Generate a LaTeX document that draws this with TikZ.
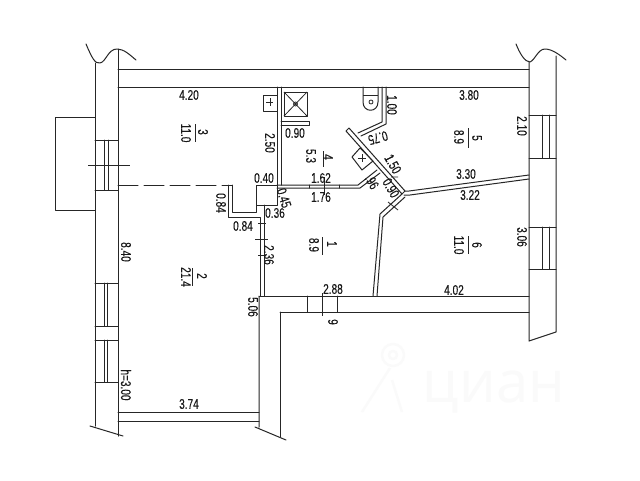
\documentclass[tikz,border=0pt]{standalone}
\usepackage{fontspec}
\setmainfont{Liberation Sans}
\newfontfamily\labfont[FakeStretch=0.72,FakeBold=0.15]{Liberation Sans}
\newfontfamily\markfont{Open Sans}
\tikzset{
 wall/.style={draw=black!85,line width=1pt,line cap=round,line join=round},
 thin line/.style={draw=black!85,line width=.8pt},
 lab/.style={inner sep=0pt,text=black!90,font=\labfont\fontsize{14}{14}\selectfont},
 vlab/.style={lab,rotate=-90},
}
\begin{document}
\begin{tikzpicture}[x=1pt,y=-1pt]
\useasboundingbox (0,0) rectangle (640,480);
\fill[white] (0,0) rectangle (640,480);
% watermark
\node[inner sep=0pt,text=black!2,font=\markfont\fontsize{58}{58}\selectfont] (wm) at (494,392) {циан};
\draw[black!2,line width=2.4pt] (393,355) circle (11) (393,355) circle (4);
\draw[black!2,line width=2.4pt] (390,368) -- (362,412) (392,380) -- (402,412);
% outer walls
\draw[wall] (95,63) -- (95,426) (118,49) -- (118,436);
\draw[wall] (86,44) .. controls (92,58) and (95,64) .. (100,63) .. controls (106,62) and (108,49) .. (117,49) .. controls (124,49) and (130,55) .. (136,60);
\draw[wall] (90,426) -- (123,436);
\draw[wall] (529,62) -- (529,341) (556,56) -- (556,332) (529,341) -- (556,332);
\draw[wall] (516,44) .. controls (520,54) and (525,62) .. (530,62) .. controls (535,60) and (538,49) .. (545,49) .. controls (552,49) and (560,55) .. (566,60);
\draw[wall] (118,69) -- (529,69) (118,87) -- (529,87);
% balcony and left windows
\draw[wall] (95,117) -- (55,117) -- (55,210) -- (95,210);
\draw[wall] (95,140) -- (118,140) (95,190) -- (118,190) (104,140) -- (104,190) (108,140) -- (108,190);
\draw[thin line] (88,165) -- (130,165);
\draw[wall] (95,283) -- (118,283) (95,326) -- (118,326) (95,340) -- (118,340) (95,382) -- (118,382);
\draw[wall] (104,283) -- (104,326) (107,283) -- (107,326) (104,340) -- (104,382) (107,340) -- (107,382);
% right windows
\draw[wall] (529,115) -- (556,115) (529,158) -- (556,158) (542,115) -- (542,158) (549,115) -- (549,158);
\draw[wall] (529,227) -- (556,227) (529,269) -- (556,269) (542,227) -- (542,269) (549,227) -- (549,269);
% bottom walls and corridor
\draw[wall] (118,412) -- (259,412) (118,421) -- (259,421);
\draw[wall] (259,296) -- (259,427) (255,427) -- (286,440);
\draw[wall] (280,312) -- (280,437);
\draw[wall] (259,296) -- (529,296) (280,312) -- (529,312);
\draw[wall] (307,296) -- (307,312) (337,296) -- (337,312);
\draw[thin line] (322,293) -- (322,316);
% niche and dashed line
\draw[wall,dash pattern=on 20pt off 6pt] (118,185) -- (232,185);
\draw[wall] (228,185) -- (228,217) -- (260,217) -- (260,296);
\draw[wall] (232,185) -- (232,212) -- (256,212) -- (256,205);
\draw[wall] (264,205) -- (264,296);
\draw[wall] (256,185) rectangle (277,205);
\draw[thin line] (255,239) -- (268,239) (258,223) -- (266,223) (258,255) -- (266,255);
% bath walls
\draw[wall] (277,87) -- (277,185) (281,87) -- (281,185);
\draw[wall] (277,185) -- (358,185) -- (377,170);
\draw[wall] (277,188) -- (360,188) -- (380,173);
\draw[wall] (309,185) -- (309,188) (339,185) -- (339,188);
\draw[thin line] (324,177) -- (324,195);
\draw[wall] (263,95) rectangle (277,111);
\draw[thin line] (266,102) -- (273,102) (270,98) -- (270,106);
\draw[wall] (284,92) rectangle (307,116);
\draw[thin line] (284,92) -- (307,116) (307,92) -- (284,116);
\draw[thin line] (295.5,104) circle (2);
\draw[wall] (281,121) -- (309,121) -- (309,125) -- (281,125);
% toilet
\draw[wall] (382,87) -- (382,122) -- (358,133);
\draw[wall] (386,87) -- (386,124) -- (361,136);
\draw[wall] (363,87) -- (363,102) .. controls (363,113) and (378,113) .. (378,102) -- (378,87);
\draw[thin line] (363,95) -- (378,95);
\draw[thin line] (371,102) circle (2);
% long diagonal wall and junction
\draw[wall] (346,131) -- (349,128) -- (405,191) -- (402,194) -- cycle;
\draw[wall] (352,157) -- (360,148) -- (373,161) -- (362,170) -- cycle;
\draw[thin line] (358,158) -- (366,158) (362,154) -- (362,162);
\draw[thin line] (385,160) -- (393,157) (391,177) -- (398,177);
% walls 5/6 and lower diagonal
\draw[wall] (405,191) -- (409,191) -- (529,175) (404,195) -- (410,195) -- (529,179);
\draw[wall] (402,194) -- (380,214) -- (373,296);
\draw[wall] (405,197) -- (383,217) -- (377,296);
\draw[thin line] (388,202) -- (398,210);
% room fractions
\draw[thin line] (195,124) -- (195,142) (192,268) -- (192,286) (323,151) -- (323,167) (322,237) -- (322,255) (468,128) -- (468,148) (468,236) -- (468,254);
\node[vlab] (r3a) at (203,132) {3};
\node[vlab] (r3b) at (186,133) {11.0};
\node[vlab] (r2a) at (202,276) {2};
\node[vlab] (r2b) at (186,277) {21.4};
\node[vlab] (r4a) at (328,157) {4};
\node[vlab] (r4b) at (311,156) {5.3};
\node[vlab] (r1a) at (332,244) {1};
\node[vlab] (r1b) at (314,245) {8.9};
\node[vlab] (r5a) at (477,138) {5};
\node[vlab] (r5b) at (459,137) {8.9};
\node[vlab] (r6a) at (477,245) {6};
\node[vlab] (r6b) at (459,245) {11.0};
% dimensions
\node[lab] (d420) at (189,95) {4.20};
\node[lab] (d380) at (469,95) {3.80};
\node[lab] (d330) at (466,174) {3.30};
\node[lab] (d322) at (470,195) {3.22};
\node[lab] (d402) at (454,290) {4.02};
\node[lab] (d162) at (321,178) {1.62};
\node[lab] (d176) at (321,197) {1.76};
\node[lab] (d040) at (264,178) {0.40};
\node[lab] (d036) at (275,213) {0.36};
\node[lab] (d090) at (295,133) {0.90};
\node[lab] (d084) at (243,226) {0.84};
\node[lab] (d288) at (333,289) {2.88};
\node[lab] (d374) at (189,404) {3.74};
\node[vlab] (v210) at (522,126) {2.10};
\node[vlab] (v306) at (522,237) {3.06};
\node[vlab] (v250) at (270,143) {2.50};
\node[vlab] (v100) at (392,105) {1.00};
\node[vlab] (v084) at (221,203) {0.84};
\node[vlab] (v236) at (269,255) {2.36};
\node[vlab] (v506) at (253,307) {5.06};
\node[vlab] (v840) at (126,252) {8.40};
\node[vlab] (vh) at (126,385) {h=3.00};
\node[vlab] (v9) at (333,322) {9};
\node[lab,rotate=-72] (a045) at (284,198) {0.45};
\node[lab,rotate=-165] (a075) at (378,138) {0.75};
\node[lab,rotate=-60] (a150) at (393,164) {1.50};
\node[lab,rotate=-60] (a096) at (372,182) {.96};
\node[lab,rotate=-60] (a090) at (391,188) {0.90};
\end{tikzpicture}
\end{document}
